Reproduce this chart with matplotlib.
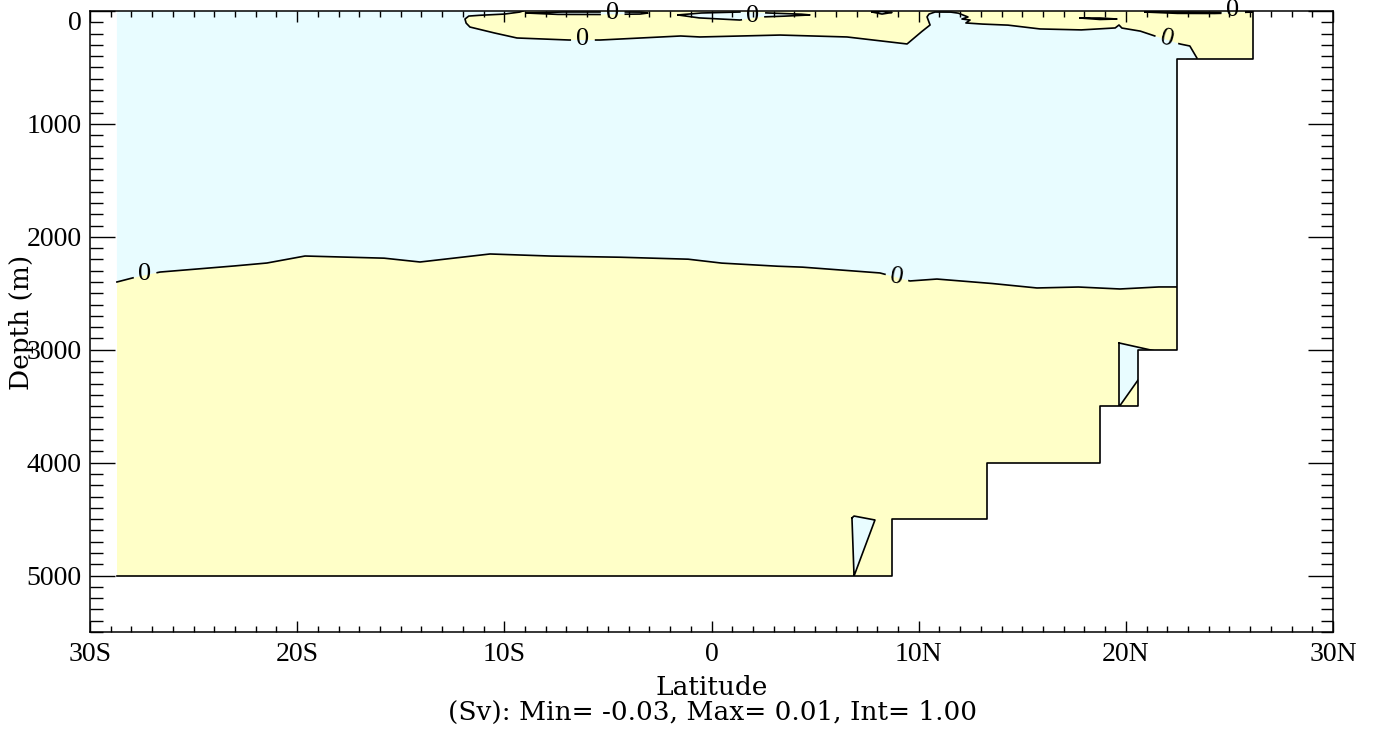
import matplotlib.pyplot as plt
import numpy as np

# bathymetry steps (latitude edges, bottom depth in m)
bathy_edges = [-28.70, 8.71, 13.30, 18.75, 20.59, 22.47, 26.14]
bathy_depth = [5000, 4500, 4000, 3500, 3000, 425]

# zero contour, deep branch
deep_lat = [-28.70, -27.97, -26.62, -23.58, -21.46, -19.62, -15.86, -14.07, -10.69, -7.94,
            -4.76, -1.18, 0.41, 2.97, 4.27, 8.13, 9.58, 10.88, 13.30, 15.71, 17.64, 19.72,
            21.50, 22.47]
deep_dep = [2400, 2365, 2312, 2267, 2232, 2170, 2188, 2223, 2152, 2170,
            2179, 2197, 2232, 2259, 2267, 2320, 2391, 2374, 2409, 2453, 2444, 2462,
            2444, 2444]

# zero contour, upper branch (bottom of the surface layer)
upper_lat = [-9.10, -9.24, -9.97, -10.93, -11.71, -11.90, -11.85, -11.66, -10.69, -9.39,
             -6.98, -5.38, -1.52, -0.56, 3.31, 6.54, 9.44, 10.06, 10.55, 10.40, 10.50,
             10.79, 11.51, 11.90, 12.14, 12.38, 12.09, 12.48, 12.28, 12.96, 14.26, 15.86,
             17.79, 19.48, 19.67, 19.81, 20.68, 21.26, 22.61, 23.09, 23.43]
upper_dep = [0, 9, 27, 35, 44, 71, 106, 142, 186, 239,
             257, 257, 221, 230, 213, 230, 292, 195, 124, 53, 27,
             9, 9, 18, 35, 53, 71, 80, 106, 115, 124, 159,
             168, 151, 124, 151, 177, 213, 292, 310, 416]

# small closed negative cells
lensA_lat = [-8.91, -7.31, -5.38, -3.45, -3.07, -3.45, -5.38, -7.31]
lensA_dep = [18, 9, 9, 9, 18, 27, 31, 31]
lensB_lat = [-1.62, -0.56, 1.37, 4.27, 4.75, 3.79, 2.34, 1.37, -0.56]
lensB_dep = [35, 18, 9, 27, 35, 44, 53, 80, 62]
lensC_lat = [7.75, 8.23, 8.71, 8.23]
lensC_dep = [9, 4, 13, 27]
lensF_lat = [17.79, 18.75, 19.57, 18.75]
lensF_dep = [62, 62, 71, 75]
lensG_lat = [20.92, 22.61, 24.40, 26.14, 24.40, 22.61]
lensG_dep = [9, 9, 13, 9, 22, 22]
triA_lat = [6.78, 6.88, 7.89, 6.88]
triA_dep = [4490, 4473, 4508, 5004]
triB_lat = [19.67, 21.41, 21.41, 20.59, 19.67]
triB_dep = [2940, 3011, 3300, 3268, 3507]

# contour labels (lat, depth, rotation)
labels_deep = [(-27.35, 2330, 0), (8.95, 2356, -10)]
labels_upper = [(-6.20, 248, 0), (21.99, 248, -15)]
labels_A = [(-4.76, 18, 0)]
labels_B = [(2.00, 44, 0)]
labels_G = [(25.17, -9, 0)]

xtick_vals = [-30, -20, -10, 0, 10, 20, 30]
xtick_labels = ['30S', '20S', '10S', '0', '10N', '20N', '30N']

pos_color = '#FFFFC8'
neg_color = '#E8FCFF'
serif = 'Liberation Serif'

plt.rcParams['font.family'] = serif
plt.rcParams['font.size'] = 20

fig = plt.figure(figsize=(13.8, 7.4), dpi=100)
ax = fig.add_axes([90/1380, 1-632/740, 1243/1380, 621/740])
ax.set_xlim(-30, 30)
ax.set_ylim(5500, 0)

# step bottom
sx = np.repeat(bathy_edges, 2)[1:-1]
sy = np.repeat(bathy_depth, 2)
ax.fill_between(sx, 0, sy, color=pos_color, lw=0, zorder=1)

main_lat = [-28.70] + upper_lat + deep_lat[::-1]
main_dep = [0] + upper_dep + deep_dep[::-1]
ax.fill(main_lat, main_dep, color=neg_color, lw=0, zorder=2)
for la, de in [(lensA_lat, lensA_dep), (lensB_lat, lensB_dep), (lensC_lat, lensC_dep),
               (lensF_lat, lensF_dep), (lensG_lat, lensG_dep), (triA_lat, triA_dep),
               (triB_lat, triB_dep)]:
    ax.fill(la, de, color=neg_color, lw=0, zorder=2)


def contour_line(lat, dep, labels=(), closed=False, gap=12):
    lat = list(lat)
    dep = list(dep)
    if closed:
        lat = lat + lat[:1]
        dep = dep + dep[:1]
    n = 30
    t = np.linspace(0, len(lat) - 1, (len(lat) - 1) * n + 1)
    x = np.interp(t, np.arange(len(lat)), lat)
    y = np.interp(t, np.arange(len(dep)), dep)
    pts = ax.transData.transform(np.column_stack([x, y]))
    keep = np.ones(len(x), bool)
    for lx, ly, rot in labels:
        c = ax.transData.transform((lx, ly))
        keep &= np.hypot(pts[:, 0] - c[0], pts[:, 1] - c[1]) > gap
        ax.text(lx, ly, '0', rotation=rot, ha='center', va='center',
                fontsize=19, zorder=6, clip_on=False)
    x = np.where(keep, x, np.nan)
    ax.plot(x, y, color='black', lw=1.2, zorder=3, solid_joinstyle='round')


contour_line(deep_lat, deep_dep, labels_deep)
contour_line(upper_lat, upper_dep, labels_upper)
contour_line(lensA_lat, lensA_dep, labels_A, closed=True)
contour_line(lensB_lat, lensB_dep, labels_B, closed=True)
contour_line(lensC_lat, lensC_dep, closed=True)
contour_line(lensF_lat, lensF_dep, closed=True)
contour_line(lensG_lat, lensG_dep, labels_G, closed=True)
contour_line(triA_lat, triA_dep, closed=True)
contour_line(triB_lat, triB_dep, closed=True)

# land
land_x = list(sx) + [bathy_edges[-1], 30, 30, bathy_edges[0]]
land_y = list(sy) + [0, 0, 5500, 5500]
ax.fill(land_x, land_y, color='white', lw=0, zorder=4)
ax.plot(list(sx) + [bathy_edges[-1]], list(sy) + [0], color='black', lw=1.2, zorder=5)

ax.set_xticks(xtick_vals)
ax.set_xticklabels(xtick_labels)
ax.set_xticks(np.arange(-30, 31, 1), minor=True)
ax.set_yticks(np.arange(0, 5001, 1000))
ax.set_yticks(np.arange(0, 5501, 100), minor=True)
ax.tick_params(which='both', direction='in', top=True, right=True, width=1.0, labelsize=20)
ax.tick_params(axis='x', which='major', length=8, pad=7)
ax.tick_params(axis='x', which='minor', length=4)
ax.tick_params(axis='y', which='major', length=18, pad=6)
ax.tick_params(axis='y', which='minor', length=9)
ax.get_yticklabels()[0].set_va('top')
ax.xaxis.set_zorder(8)
ax.yaxis.set_zorder(8)
for s in ax.spines.values():
    s.set_linewidth(1.1)
    s.set_zorder(9)

fig.text(21/1380, 1-322/740, 'Depth (m)', rotation=90, ha='center', va='center',
         family='DejaVu Serif', fontsize=19)
fig.text(712/1380, 1-695/740, 'Latitude', ha='center', va='baseline',
         family='DejaVu Serif', fontsize=19)
fig.text(712/1380, 1-720/740, '(Sv): Min= -0.03, Max= 0.01, Int= 1.00', ha='center',
         va='baseline', family='DejaVu Serif', fontsize=19)

fig.savefig('out.png', dpi=100)
